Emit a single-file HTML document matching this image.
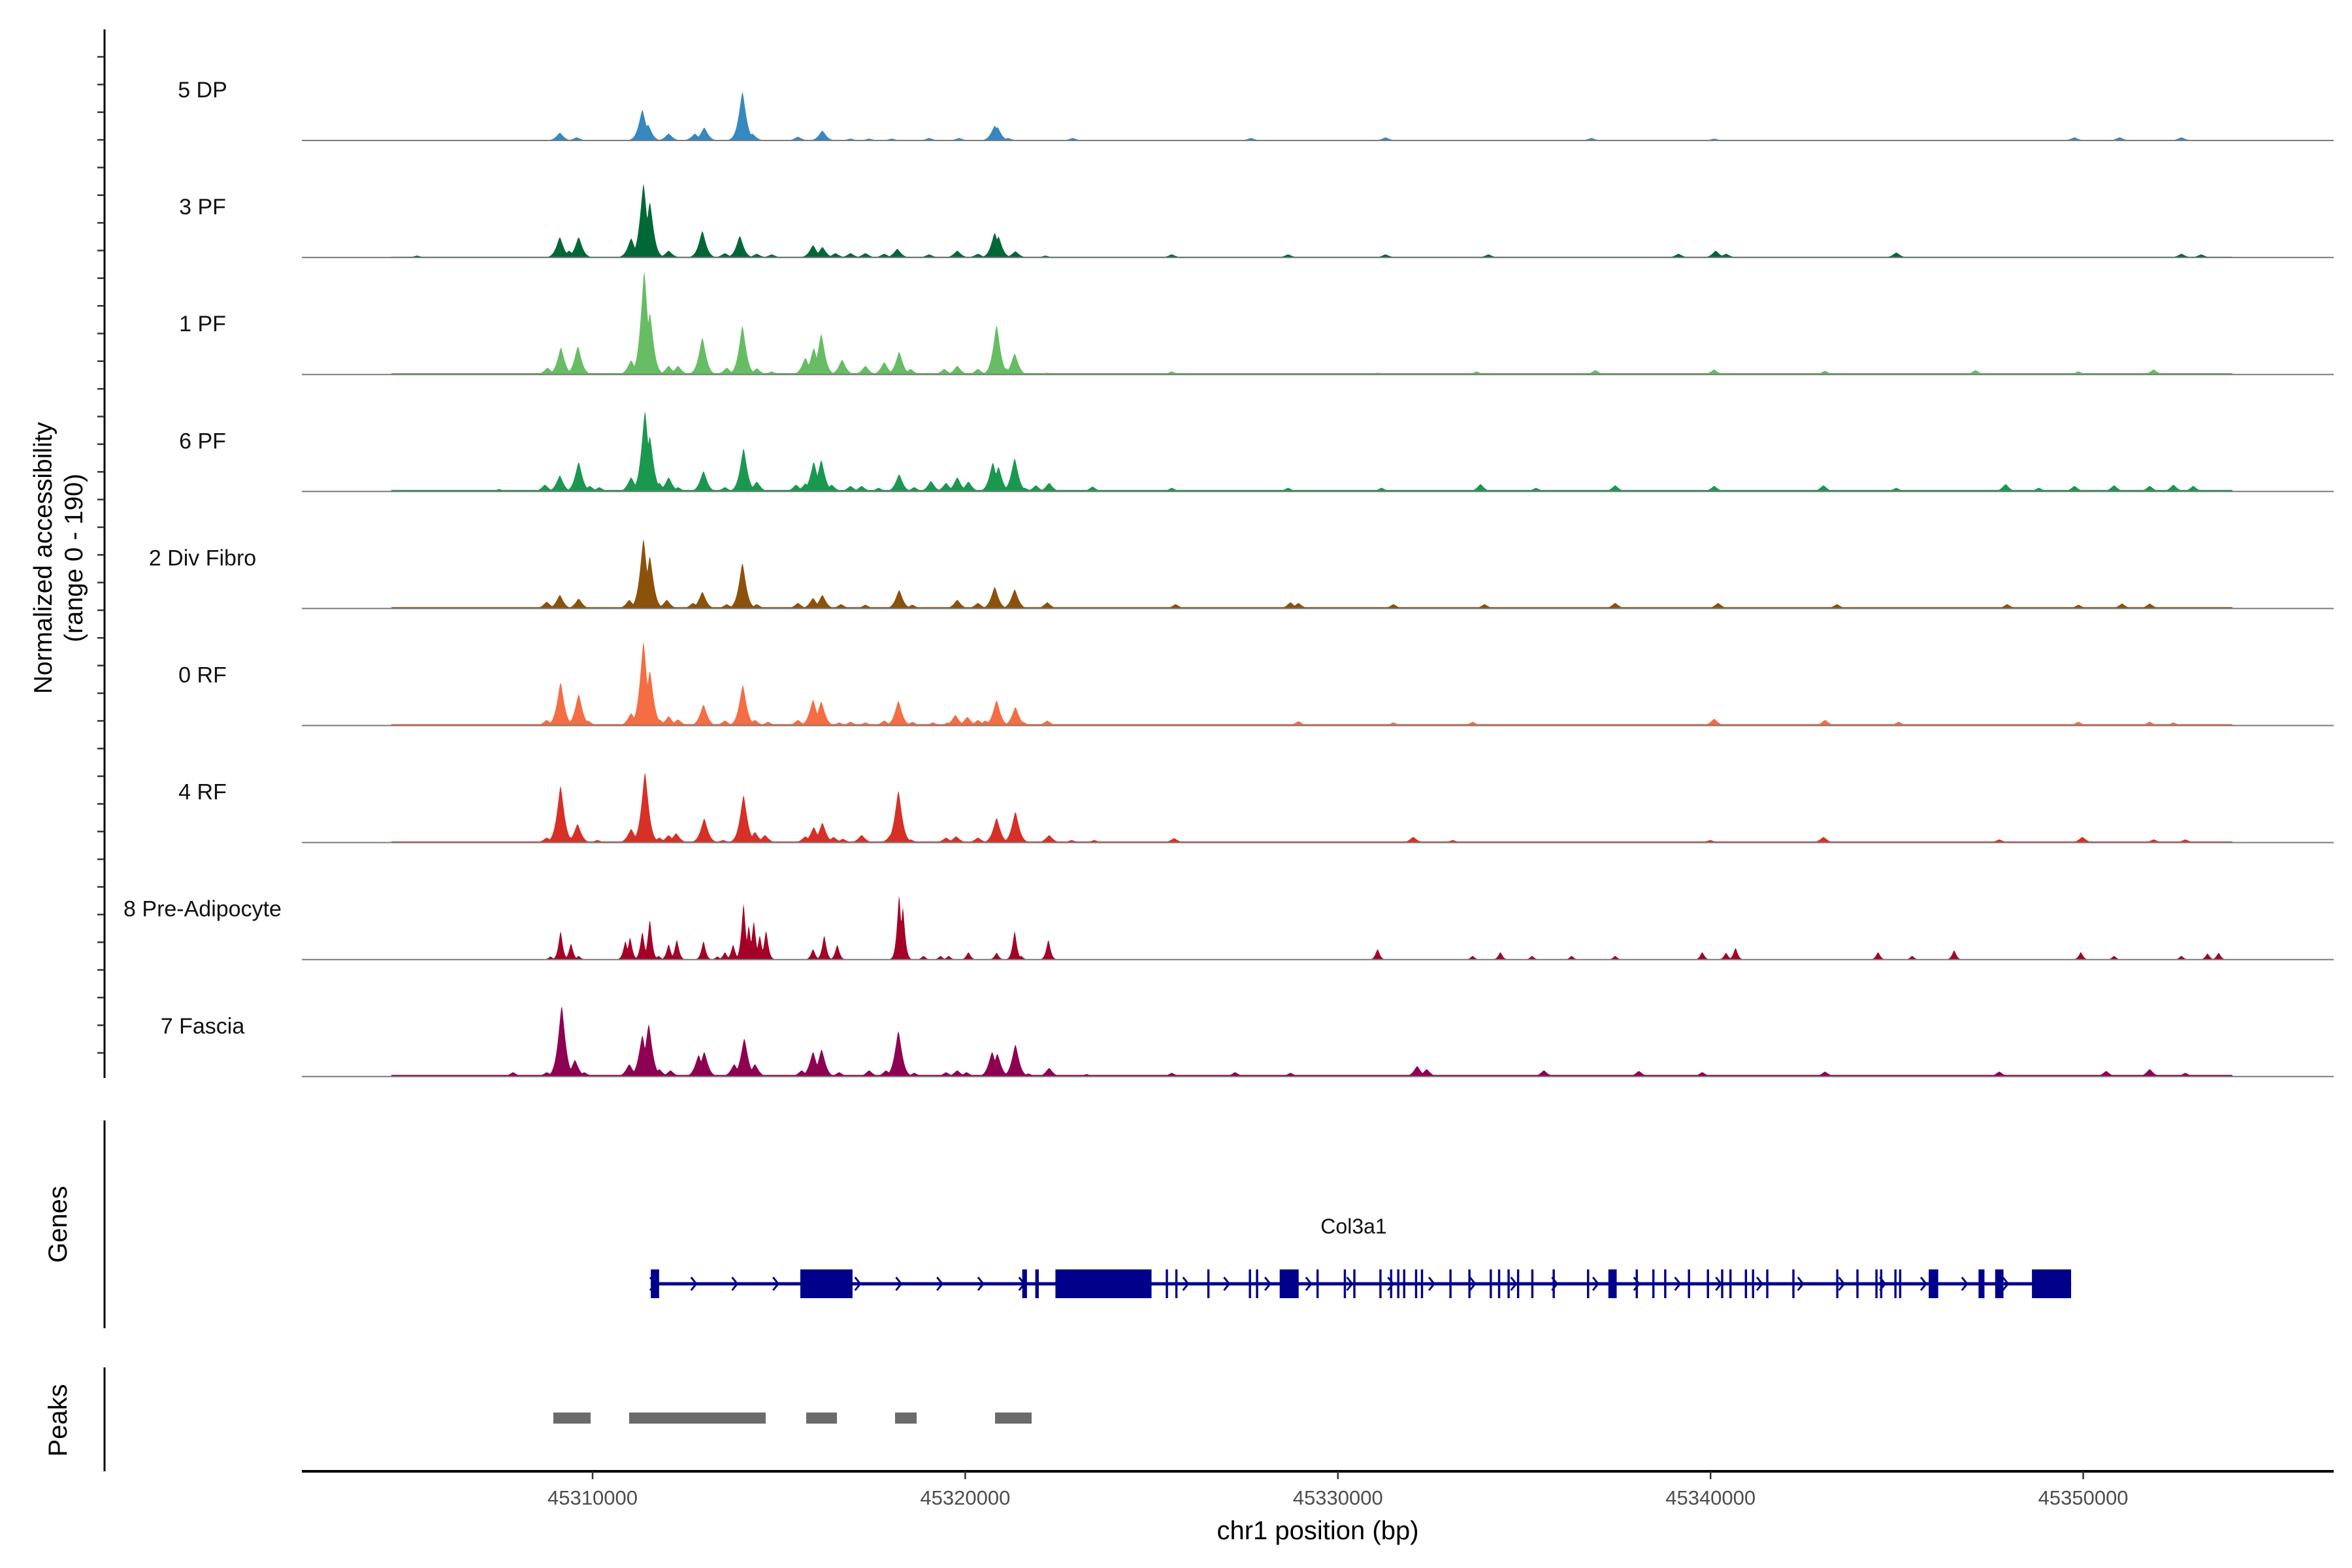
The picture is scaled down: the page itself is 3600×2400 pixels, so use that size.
<!DOCTYPE html>
<html><head><meta charset="utf-8"><style>
html,body{margin:0;padding:0;background:#fff}
svg{display:block}
text{font-family:"Liberation Sans",Arial,sans-serif}
</style></head><body>
<svg id="chart" width="3600" height="2400" viewBox="0 0 3600 2400" xmlns="http://www.w3.org/2000/svg">
<g id="tracks"></g>
<g id="genes"></g>
<g id="peaks"></g>
<g id="axes"></g>
</svg>
<script>
// ---- data ----
const trackNames = ["5 DP","3 PF","1 PF","6 PF","2 Div Fibro","0 RF","4 RF","8 Pre-Adipocyte","7 Fascia"];
const trackColors = ["#3787c0","#006837","#66bd63","#1a9850","#8c510a","#f46d43","#d73027","#a50026","#8e0152"];
const trackBase = [0.6,1.3,2.3,2.5,2.3,2.3,1.8,0,2.8];
const xTicks = [45310000,45320000,45330000,45340000,45350000];
const yRangeMax = 190;
const dataStart = 45304600, dataEnd = 45354000;

const pos5DP = [45309130,45309585,45311345,45311495,45312050,45312755,45313005,45314030,45314295,45315520,45316175,45316930,45317430,45318035,45319040,45319845,45320800,45320870,45321155,45322893,45327674,45331287,45336811,45340105,45349774,45350986,45352643];
const val5DP = [12.5,5,50,26,11,11,21,79,11,6,16,3,3,3,4,4,24,22,4,4,4,5,4,3,5,5,5];

const pos3PF = [45305300,45309130,45309380,45309635,45311045,45311375,45311545,45312050,45312955,45313560,45313960,45314415,45314815,45315925,45316175,45316525,45316930,45317330,45317835,45318185,45319040,45319795,45320350,45320800,45320900,45321355,45322160,45325549,45328673,45331287,45334049,45339149,45340148,45340424,45344993,45352643,45353174];
const val3PF = [3,33,11,33,31,120,90,11,43,7,35,6,5,20,17,7,7,7,6,14,5,11,6,40,34,10,3,5,5,5,5,6,11,6,8,6,5];

const pos1PF = [45308800,45309160,45309615,45311045,45311395,45311545,45312050,45312300,45312955,45313610,45314030,45314415,45314815,45315720,45315945,45316145,45316705,45317330,45317835,45318235,45318540,45319445,45319795,45320350,45320850,45321105,45321335,45322210,45325549,45331074,45333730,45336918,45340105,45343080,45347118,45349880,45351899];
const val1PF = [11,44,46,23,168,100,14,14,60,11,79,10,5,27,43,66,24,14,20,37,9,9,14,9,80,10,34,3,5,3,5,7,8,6,7,5,8];

const pos6PF = [45307500,45308730,45309130,45309635,45309935,45310190,45311045,45311415,45311545,45311800,45312050,45312300,45312985,45313560,45314060,45314415,45315470,45315720,45315945,45316145,45316425,45316930,45317230,45317685,45318235,45318640,45319090,45319495,45319795,45320095,45320750,45320900,45321335,45321605,45321905,45322260,45323424,45325549,45328673,45331180,45333836,45335324,45337449,45340105,45343038,45344993,45347926,45348818,45349774,45350837,45351793,45352430,45352962];
const val6PF = [4,11,26,48,9,7,23,131,90,14,23,7,33,7,70,16,11,13,48,51,11,9,9,6,28,7,17,14,23,16,47,40,54,6,10,14,8,6,6,6,12,6,10,9,10,6,12,6,9,10,9,11,9];

const pos2Div = [45308780,45309130,45309635,45310995,45311375,45311545,45312000,45312705,45312955,45313610,45314030,45314415,45315520,45315925,45316175,45316675,45317330,45318235,45318590,45319795,45320350,45320800,45321335,45322210,45325655,45328736,45328949,45331499,45333943,45337449,45340211,45343399,45347968,45349880,45351049,45351793];
const val2Div = [11,22,16,14,113,85,14,9,27,7,74,7,9,17,22,7,6,30,6,14,9,35,31,10,7,10,9,7,7,9,9,7,7,6,8,8];

const pos0RF = [45308780,45309150,45309635,45309885,45311045,45311375,45311545,45311800,45312050,45312300,45312985,45313560,45314040,45314365,45314715,45315520,45315925,45316145,45316625,45316930,45317330,45317835,45318215,45318590,45319140,45319545,45319745,45320065,45320350,45320550,45320850,45321355,45321555,45322210,45328949,45331499,45333624,45340105,45343080,45345057,45349880,45351793,45352430];
const val0RF = [9,70,51,8,20,136,89,10,15,10,34,8,66,9,6,9,42,39,5,6,5,8,40,6,5,5,17,14,9,8,41,30,6,8,7,5,6,11,9,6,6,6,5];

const pos4RF = [45308780,45309150,45309380,45309605,45310140,45311045,45311415,45311800,45312050,45312250,45313005,45313510,45314060,45314365,45314635,45315720,45315945,45316175,45316475,45316725,45317230,45318035,45318215,45318540,45319495,45319765,45320350,45320850,45321355,45322260,45322865,45323470,45325613,45332030,45333093,45339999,45343038,45347756,45349986,45351899,45352749];
const val4RF = [8,92,10,30,4,22,114,8,12,15,39,4,77,17,12,10,25,32,9,6,12,15,84,5,8,10,8,40,50,12,4,4,7,9,4,4,9,5,9,5,5];

const posPreAd = [45308880,45309150,45309430,45309635,45310890,45311015,45311345,45311545,45311780,45312050,45312270,45312985,45313360,45313560,45313780,45314060,45314200,45314335,45314495,45314665,45315925,45316225,45316575,45318235,45318335,45318890,45319345,45319565,45320095,45320850,45321335,45321505,45322240,45331074,45333624,45334368,45335218,45336280,45337449,45339786,45340424,45340679,45344504,45345418,45346545,45349944,45350837,45352643,45353344,45353642];
const valPreAd = [5,46,26,6,30,36,45,65,6,25,32,30,5,12,24,91,55,62,39,47,17,39,24,105,85,6,6,6,12,11,46,6,32,17,6,12,6,6,6,12,11,19,12,6,15,12,6,6,10,11];

const posFascia = [45307875,45308780,45309180,45309535,45309785,45310995,45311345,45311515,45311800,45312100,45312855,45313005,45313810,45314080,45314365,45315620,45315925,45316155,45316625,45317430,45317885,45318215,45318640,45319495,45319795,45320045,45320730,45320870,45321355,45321705,45322260,45323265,45325549,45327249,45328736,45332136,45332391,45335537,45338086,45339786,45343080,45347756,45350624,45351793,45352749];
const valFascia = [7,7,115,27,7,20,67,85,12,10,35,40,20,62,20,10,40,44,7,10,10,74,6,7,10,7,40,37,52,5,14,4,6,7,6,17,12,10,9,7,8,8,9,12,6];

const exonStart = [45311563,45315575,45321529,45321879,45322420,45325381,45325636,45326495,45327610,45327801,45328438,45329425,45330157,45330412,45331112,45331399,45331590,45331749,45332068,45332227,45332991,45333500,45334073,45334296,45334551,45334806,45335188,45335761,45336684,45337258,45337990,45338436,45338754,45339391,45339900,45340282,45340505,45340919,45341110,45341492,45342193,45343371,45343912,45344422,45344549,45344931,45345058,45345854,45347191,45347637,45348624];
const exonEnd = [45311786,45316976,45321656,45321974,45324999,45325441,45325696,45326555,45327670,45327861,45328947,45329485,45330217,45330472,45331172,45331459,45331650,45331809,45332128,45332287,45333051,45333560,45334133,45334356,45334611,45334866,45335248,45335821,45336744,45337481,45338050,45338496,45338814,45339451,45339960,45340342,45340565,45340979,45341170,45341552,45342253,45343431,45343972,45344482,45344609,45344991,45345118,45346109,45347350,45347860,45349675];
const geneStart = 45311563, geneEnd = 45349675;
const peakStart = [45308948,45310982,45315733,45318117,45320800];
const peakEnd = [45309947,45314646,45316557,45318696,45321781];

const trackPos = [pos5DP,pos3PF,pos1PF,pos6PF,pos2Div,pos0RF,pos4RF,posPreAd,posFascia];
const trackVal = [val5DP,val3PF,val1PF,val6PF,val2Div,val0RF,val4RF,valPreAd,valFascia];

// ---- scales ----
const NS="http://www.w3.org/2000/svg";
function xs(g){return 907+(g-45310000)*0.05704;}
function xinv(px){return 45310000+(px-907)/0.05704;}
const baseY0=215, trackStep=179.1, trackPx=179;
function ys(v,i){return baseY0+i*trackStep - v/yRangeMax*trackPx;}
function mk(tag,attrs,parent){const e=document.createElementNS(NS,tag);for(const k in attrs)e.setAttribute(k,attrs[k]);parent.appendChild(e);return e;}

const tracksG=document.getElementById('tracks');
trackNames.forEach((nm,i)=>{
  const g=mk('g',{},tracksG);
  
  
  const by=baseY0+i*trackStep;
  const lbl=mk('text',{x:310,y:by-66,'text-anchor':'middle','font-size':34,fill:'#111'},g);
  lbl.textContent=nm;
  
  
  const P=trackPos[i],V=trackVal[i],w=(i===7?80:135),base=trackBase[i];
  const x0=Math.round(xs(dataStart)),x1=Math.round(xs(dataEnd));
  let d='M'+x0+' '+by;
  for(let px=x0;px<=x1;px++){
    const gg=xinv(px+0.5);let v=base;
    for(let k=0;k<P.length;k++){const f=V[k]*Math.exp(-Math.pow(Math.abs(gg-P[k])/w,1.4));if(f>v)v=f;}
    if(i===7&&v<0.4)v=0;
    d+='L'+px+' '+ys(v,i).toFixed(1);
  }
  d+='L'+x1+' '+by+'Z';
  const area=mk('path',{d:d,fill:trackColors[i]},g);
  
  
  const bl=mk('line',{x1:462,x2:3572,y1:by,y2:by,stroke:'#7a7a7a','stroke-width':2},g);
  
  
});

// genes
const genesG=document.getElementById('genes');
const gy=1965;
const gl=mk('line',{x1:xs(geneStart),x2:xs(geneEnd),y1:gy,y2:gy,stroke:'#00008b','stroke-width':5},genesG);


for(let g=geneStart+50;g<geneEnd;g+=1100){
  const x=xs(g);
  const a=mk('path',{d:`M${x-4} ${gy-10}L${x+4} ${gy}L${x-4} ${gy+10}`,stroke:'#00008b','stroke-width':3,fill:'none'},genesG);
  
  
}
exonStart.forEach((s,k)=>{
  const r=mk('rect',{x:xs(s),y:gy-22,width:Math.max(2.5,xs(exonEnd[k])-xs(s)),height:44,fill:'#00008b'},genesG);
  
  
});
const gn=mk('text',{x:2072,y:1888,'text-anchor':'middle','font-size':32,fill:'#111'},genesG);
gn.textContent='Col3a1';



// peaks
const peaksG=document.getElementById('peaks');
peakStart.forEach((s,k)=>{
  const r=mk('rect',{x:xs(s),y:2162,width:xs(peakEnd[k])-xs(s),height:17,fill:'#6b6b6b'},peaksG);
  
  
});

// axes
const ax=document.getElementById('axes');
function named(e,n){return e;}
named(mk('line',{x1:160,x2:160,y1:45,y2:1650,stroke:'#000','stroke-width':3},ax),'coverage-y-axis');
for(let y=87;y<=1650;y+=42.35){
  const t=mk('line',{x1:149,x2:160,y1:y,y2:y,stroke:'#333','stroke-width':2.5},ax);
  
  
}
named(mk('line',{x1:160,x2:160,y1:1715,y2:2033,stroke:'#000','stroke-width':3},ax),'genes-y-axis');
named(mk('line',{x1:160,x2:160,y1:2093,y2:2252,stroke:'#000','stroke-width':3},ax),'peaks-y-axis');
named(mk('line',{x1:462,x2:3572,y1:2252,y2:2252,stroke:'#000','stroke-width':4},ax),'x-axis-line');
xTicks.forEach(t=>{
  const x=xs(t);
  const tk=mk('line',{x1:x,x2:x,y1:2252,y2:2264,stroke:'#333','stroke-width':2.5},ax);
  
  
  const lb=mk('text',{x:x,y:2303,'text-anchor':'middle','font-size':31,fill:'#4d4d4d'},ax);
  lb.textContent=String(t);
  
  
});
const xt=named(mk('text',{x:2017,y:2356,'text-anchor':'middle','font-size':40,fill:'#000'},ax),'x-axis-title');
xt.textContent='chr1 position (bp)';
const yt1=named(mk('text',{x:0,y:0,'text-anchor':'middle','font-size':39,fill:'#000',transform:'translate(79,854) rotate(-90)'},ax),'y-axis-title');
yt1.textContent='Normalized accessibility';
const yt2=named(mk('text',{x:0,y:0,'text-anchor':'middle','font-size':39,fill:'#000',transform:'translate(126,854) rotate(-90)'},ax),'y-axis-subtitle');
yt2.textContent='(range 0 - 190)';
const gt=named(mk('text',{x:0,y:0,'text-anchor':'middle','font-size':40,fill:'#000',transform:'translate(102,1874) rotate(-90)'},ax),'genes-axis-title');
gt.textContent='Genes';
const pt=named(mk('text',{x:0,y:0,'text-anchor':'middle','font-size':40,fill:'#000',transform:'translate(102,2174) rotate(-90)'},ax),'peaks-axis-title');
pt.textContent='Peaks';
</script>
</body></html>
